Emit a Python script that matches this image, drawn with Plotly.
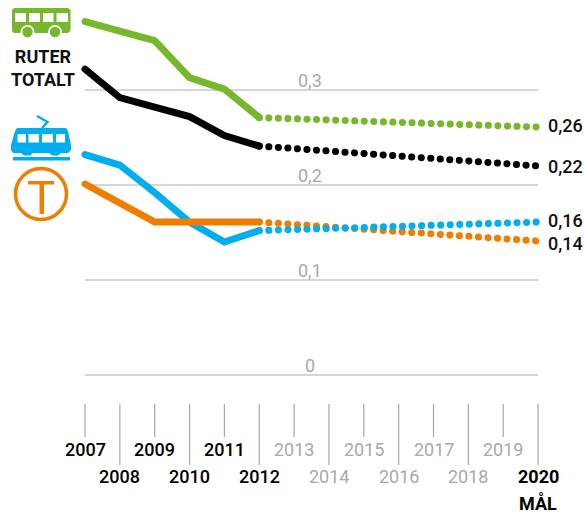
import plotly.graph_objects as go

W, H = 586, 515
X0, X_STEP = 85.0, 34.85
Y0, Y_UNIT = 375.0, 950.0

years = list(range(2007, 2021))
actual_years = [2007, 2008, 2009, 2010, 2011, 2012]
goal_years = [2012, 2020]

bus = [0.372, 0.362, 0.352, 0.313, 0.301, 0.271]
bus_goal = [0.271, 0.261]
total = [0.322, 0.292, 0.282, 0.272, 0.252, 0.241]
total_goal = [0.241, 0.220]
tram = [0.232, 0.221, 0.192, 0.161, 0.140, 0.152]
tram_goal = [0.152, 0.161]
metro = [0.201, 0.181, 0.161, 0.161, 0.161, 0.161]
metro_goal = [0.161, 0.141]

grid_values = [0, 0.1, 0.2, 0.3]
grid_labels = ["0", "0,1", "0,2", "0,3"]
end_labels = ["0,26", "0,22", "0,16", "0,14"]
end_label_values = [0.2625, 0.219, 0.1625, 0.1385]

GREEN, BLUE, ORANGE, BLACK = "#76b82a", "#00aeef", "#f07d00", "#000000"
GRID, TICK, MUTED = "#c9c9c9", "#a8a8a8", "#a9a9a9"
FONT = "Roboto"


def px(x):
    return x / W


def py(y):
    return 1 - y / H


def poly(points, close=True):
    body = " L ".join(f"{px(x):.5f},{py(y):.5f}" for x, y in points)
    return "M " + body + (" Z" if close else "")


def shape_poly(points, color):
    return dict(type="path", xref="paper", yref="paper", path=poly(points),
                fillcolor=color, line=dict(width=0), layer="above")


def shape_rect(x0, y0, x1, y1, color):
    return dict(type="rect", xref="paper", yref="paper", x0=px(x0), x1=px(x1),
                y0=py(y0), y1=py(y1), fillcolor=color, line=dict(width=0), layer="above")


def shape_circle(cx, cy, r, fill, line_color=None, line_width=0):
    return dict(type="circle", xref="paper", yref="paper", x0=px(cx - r), x1=px(cx + r),
                y0=py(cy + r), y1=py(cy - r), fillcolor=fill,
                line=dict(width=line_width, color=line_color or fill), layer="above")


fig = go.Figure()


def dotted(xs, ys, color):
    fig.add_trace(go.Scatter(x=xs, y=ys, mode="lines", hoverinfo="skip",
                             line=dict(color=color, width=7, dash="0.1px,9.45px")))


def solid(xs, ys, color):
    fig.add_trace(go.Scatter(x=xs, y=ys, mode="lines", hoverinfo="skip",
                             line=dict(color=color, width=7)))


dotted(goal_years, metro_goal, ORANGE)
dotted(goal_years, tram_goal, BLUE)
dotted(goal_years, bus_goal, GREEN)
dotted(goal_years, total_goal, BLACK)
solid(actual_years, tram, BLUE)
solid(actual_years, metro, ORANGE)
solid(actual_years, bus, GREEN)
solid(actual_years, total, BLACK)

shapes = []
annotations = []

# grid lines and their labels
for v, label in zip(grid_values, grid_labels):
    shapes.append(dict(type="line", xref="x", yref="y", x0=years[0], x1=years[-1], y0=v, y1=v,
                       line=dict(color=GRID, width=1.6), layer="below"))
    annotations.append(dict(x=2013.45, y=v, xref="x", yref="y", text=label, showarrow=False,
                            yanchor="bottom", xanchor="center", yshift=-3,
                            font=dict(family=FONT, size=18, color=MUTED)))

# year ticks and labels
for i, yr in enumerate(years):
    long_tick = i % 2 == 1
    shapes.append(dict(type="line", xref="x", yref="paper", x0=yr, x1=yr, y0=py(404),
                       y1=py(465 if long_tick else 437),
                       line=dict(color=TICK, width=1.2), layer="below"))
    bold = yr == 2020
    dark = yr <= 2012
    annotations.append(dict(x=yr, y=py(476 if long_tick else 449), xref="x", yref="paper",
                            text=f"<b>{yr}</b>" if bold else str(yr), showarrow=False,
                            xanchor="center", yanchor="middle",
                            font=dict(family=FONT, size=18, weight=500 if dark else 400,
                                      color="#000000" if (bold or dark) else MUTED)))

annotations.append(dict(x=2020, y=py(503), xref="x", yref="paper", text="<b>MÅL</b>", showarrow=False,
                        xanchor="center", yanchor="middle",
                        font=dict(family=FONT, size=18, color="#000000")))

# end value labels
for v, label in zip(end_label_values, end_labels):
    annotations.append(dict(x=2020, y=v, xref="x", yref="y", text=label, showarrow=False,
                            xanchor="left", yanchor="middle", xshift=8,
                            font=dict(family=FONT, size=18, weight=500, color="#111111")))

annotations.append(dict(x=px(43), y=py(68), xref="paper", yref="paper",
                        text="<b>RUTER<br>TOTALT</b>", showarrow=False,
                        xanchor="center", yanchor="middle", align="center",
                        font=dict(family=FONT, size=18, color="#111111")))

# bus icon
shapes.append(shape_poly([(14, 8), (68, 8), (70.5, 10), (70.5, 31), (68, 33), (14, 33), (12, 31), (12, 10)], GREEN))
for x0, x1 in [(15, 26), (29, 40), (43, 53.5), (56.5, 68)]:
    shapes.append(shape_rect(x0, 13, x1, 22, "#ffffff"))
for cx in (27.5, 55):
    shapes.append(shape_circle(cx, 32, 7, "#ffffff"))
    shapes.append(shape_circle(cx, 32, 5.2, GREEN))

# tram icon
shapes.append(shape_poly([(17, 128), (66, 128), (68, 131), (71, 145), (71, 150), (68, 153), (61, 153), (58, 155.5),
                          (52, 155.5), (49, 153), (33, 153), (30, 155.5), (24, 155.5), (21, 153),
                          (13, 153), (11, 150), (11, 145), (15, 131)], BLUE))
for x0, x1 in [(17.5, 26), (28.5, 39), (42, 53), (56, 65)]:
    shapes.append(shape_rect(x0, 134, x1, 142.5, "#ffffff"))
shapes.append(shape_rect(13, 157, 70, 160.5, BLUE))
shapes.append(dict(type="path", xref="paper", yref="paper",
                   path=poly([(37, 116), (47.5, 122), (42, 128)], close=False),
                   line=dict(color=BLUE, width=2.4), layer="above"))

# metro icon
shapes.append(shape_circle(41, 194, 25.5, "rgba(0,0,0,0)", ORANGE, 3.5))
shapes.append(shape_rect(28, 181, 54, 184.5, ORANGE))
shapes.append(shape_rect(39.5, 181, 44, 214, ORANGE))

fig.update_layout(
    width=W, height=H, autosize=False,
    margin=dict(l=0, r=0, t=0, b=0),
    paper_bgcolor="#ffffff", plot_bgcolor="#ffffff",
    showlegend=False,
    shapes=shapes, annotations=annotations,
    xaxis=dict(visible=False, range=[2007 - X0 / X_STEP, 2007 + (W - X0) / X_STEP]),
    yaxis=dict(visible=False, range=[(Y0 - H) / Y_UNIT, Y0 / Y_UNIT]),
)

post = ("document.documentElement.style.margin='0';document.body.style.margin='0';"
        "document.body.style.overflow='hidden';"
        "document.querySelectorAll('.js-line').forEach(function(p){"
        "p.style.strokeLinecap='round';p.style.strokeLinejoin='miter';});")
fig.write_html("out.html", post_script=post, config=dict(displayModeBar=False))
